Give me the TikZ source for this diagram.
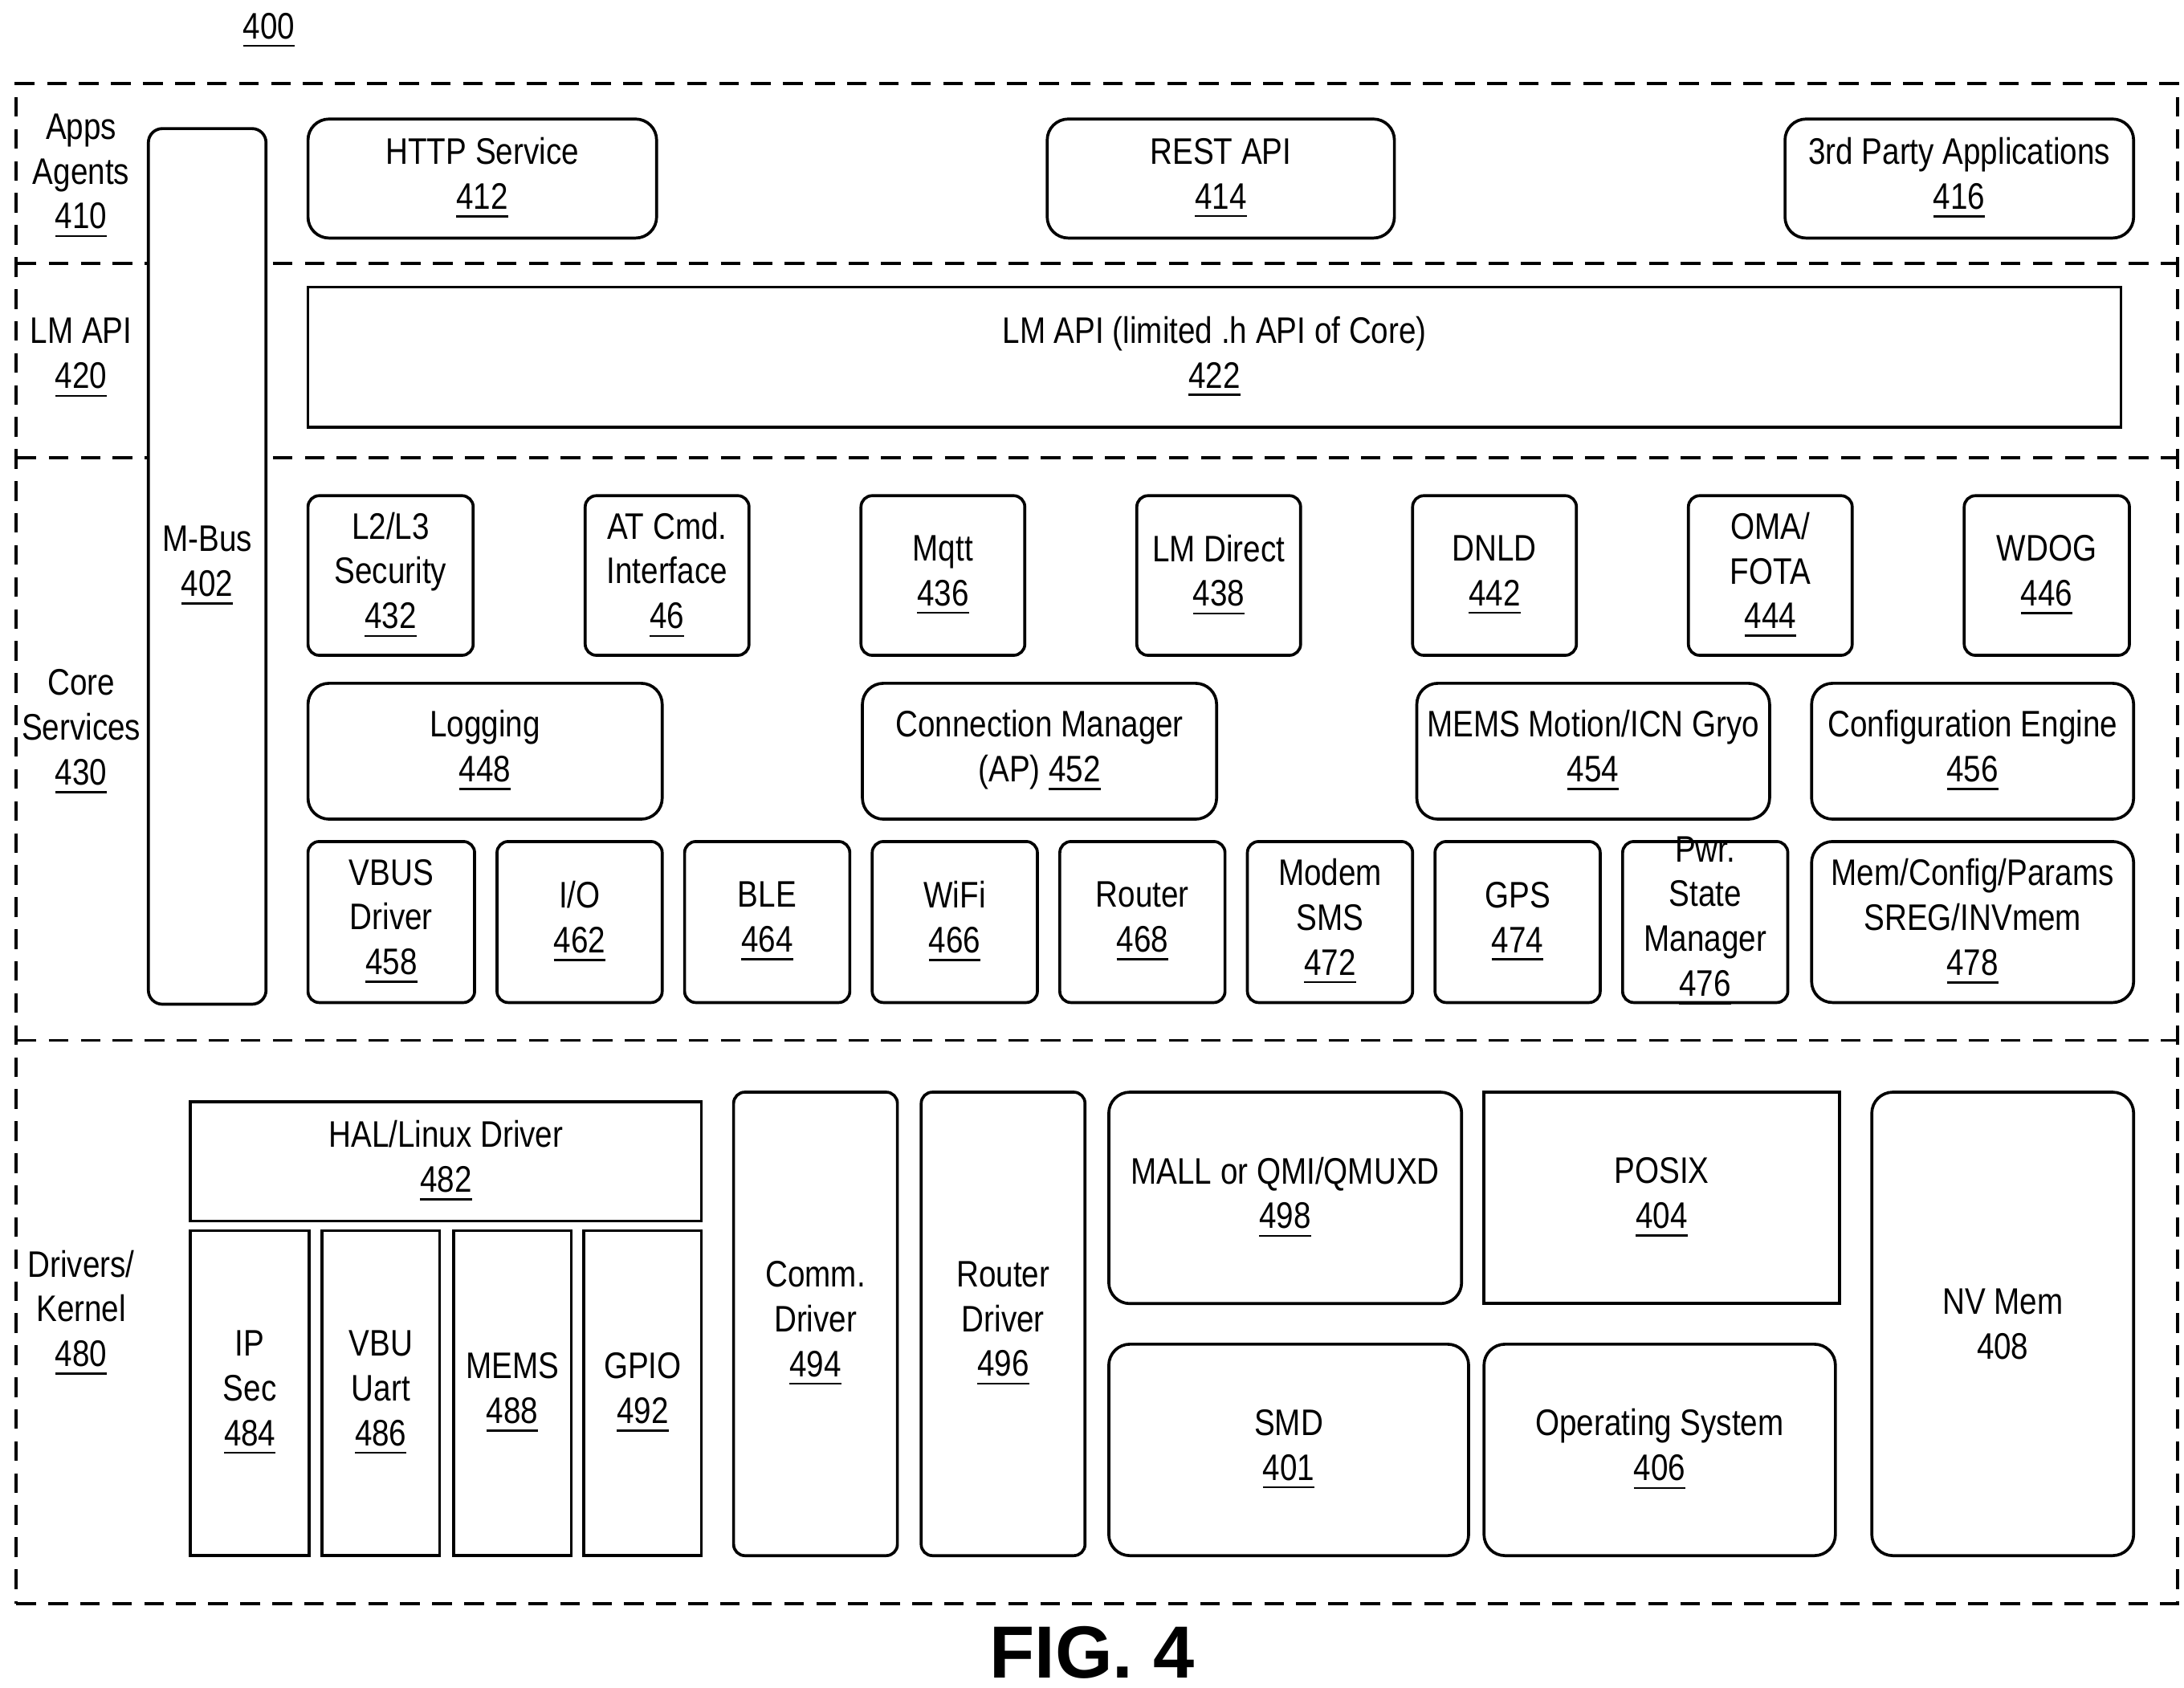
\documentclass[tikz,border=0pt]{standalone}
\usepackage{fontspec}
\setmainfont[FakeStretch=0.84]{Liberation Sans}
\newfontfamily\figfont{Liberation Sans}
\newcommand{\un}[1]{\underline{#1}}
\begin{document}
\begin{tikzpicture}[x=0.01cm,y=-0.01cm,
  base/.style={draw,line width=0.6pt,align=center,font=\fontsize{7.5}{9.1}\selectfont,inner sep=0pt},
  rb/.style={base,rounded corners=1.5mm},
  sb/.style={base,rounded corners=0.8mm},
  qb/.style={base},
  lab/.style={align=center,font=\fontsize{7.5}{9.1}\selectfont},
  dl/.style={line width=0.6pt,dash pattern=on 4pt off 2.5pt}]
\newcommand{\bx}[7]{\node[#2,minimum width={(#5-#3)*0.01cm},minimum height={(#6-#4)*0.01cm}] (#1) at ({(#3+#5)/2},{(#4+#6)/2}) {#7};}
\useasboundingbox (0,0) rectangle (1560,1205);
\node[dl,draw,minimum width=15.43cm,minimum height=10.85cm,inner sep=0pt] (outer) at (783.5,602.5) {};
\coordinate (l1a) at (12,188); \coordinate (l1b) at (1555,188);
\coordinate (l2a) at (12,327); \coordinate (l2b) at (1555,327);
\coordinate (l3a) at (12,743); \coordinate (l3b) at (1555,743);
\draw[dl] (l1a)--(l1b); \draw[dl] (l2a)--(l2b); \draw[dl] (l3a)--(l3b);
\node[lab] (n400) at (192,22) {\un{400}};
\node[lab] (L410) at (58,126) {Apps\\Agents\\\un{410}};
\node[lab] (L420) at (58,256) {LM API\\\un{420}};
\node[lab] (L430) at (58,523) {Core\\Services\\\un{430}};
\node[lab] (L480) at (58,938) {Drivers/\\Kernel\\\un{480}};
\node[base,fill=white,rounded corners=1mm,minimum width=0.84cm,minimum height=6.25cm] (mbus) at (148,404.5) {M-Bus\\\un{402}};
\bx{b412}{rb}{220}{85}{469}{170}{HTTP Service\\\un{412}}
\bx{b414}{rb}{748}{85}{996}{170}{REST API\\\un{414}}
\bx{b416}{rb}{1275}{85}{1524}{170}{3rd Party Applications\\\un{416}}
\bx{b422}{qb}{220}{205}{1515}{305}{LM API (limited .h API of Core)\\\un{422}}
\bx{b432}{sb}{220}{354}{338}{468}{L2/L3\\Security\\\un{432}}
\bx{b46}{sb}{418}{354}{535}{468}{AT Cmd.\\Interface\\\un{46}}
\bx{b436}{sb}{615}{354}{732}{468}{Mqtt\\\un{436}}
\bx{b438}{sb}{812}{354}{929}{468}{LM Direct\\\un{438}}
\bx{b442}{sb}{1009}{354}{1126}{468}{DNLD\\\un{442}}
\bx{b444}{sb}{1206}{354}{1323}{468}{OMA/\\FOTA\\\un{444}}
\bx{b446}{sb}{1403}{354}{1521}{468}{WDOG\\\un{446}}
\bx{b448}{rb}{220}{488}{473}{585}{Logging\\\un{448}}
\bx{b452}{rb}{616}{488}{869}{585}{Connection Manager\\(AP) \un{452}}
\bx{b454}{rb}{1012}{488}{1264}{585}{MEMS Motion/ICN Gryo\\\un{454}}
\bx{b456}{rb}{1294}{488}{1524}{585}{Configuration Engine\\\un{456}}
\bx{b458}{sb}{220}{601}{339}{716}{VBUS\\Driver\\\un{458}}
\bx{b462}{sb}{355}{601}{473}{716}{I/O\\\un{462}}
\bx{b464}{sb}{489}{601}{607}{716}{BLE\\\un{464}}
\bx{b466}{sb}{623}{601}{741}{716}{WiFi\\\un{466}}
\bx{b468}{sb}{757}{601}{875}{716}{Router\\\un{468}}
\bx{b472}{sb}{891}{601}{1009}{716}{Modem\\SMS\\\un{472}}
\bx{b474}{sb}{1025}{601}{1143}{716}{GPS\\\un{474}}
\bx{b476}{sb}{1159}{601}{1277}{716}{}
\node[lab] (t476) at (1218,658) {Pwr.\\State\\Manager\\\un{476}};
\bx{b478}{rb}{1294}{601}{1524}{716}{Mem/Config/Params\\SREG/INVmem\\\un{478}}
\bx{b482}{qb}{136}{787}{501}{872}{HAL/Linux Driver\\\un{482}}
\bx{b484}{qb}{136}{879}{221}{1111}{IP\\Sec\\\un{484}}
\bx{b486}{qb}{230}{879}{314}{1111}{VBU\\Uart\\\un{486}}
\bx{b488}{qb}{324}{879}{408}{1111}{MEMS\\\un{488}}
\bx{b492}{qb}{417}{879}{501}{1111}{GPIO\\\un{492}}
\bx{b494}{sb}{524}{780}{641}{1111}{Comm.\\Driver\\\un{494}}
\bx{b496}{sb}{658}{780}{775}{1111}{Router\\Driver\\\un{496}}
\bx{b498}{rb}{792}{780}{1044}{931}{MALL or QMI/QMUXD\\\un{498}}
\bx{b404}{qb}{1060}{780}{1314}{931}{POSIX\\\un{404}}
\bx{b401}{rb}{792}{960}{1049}{1111}{SMD\\\un{401}}
\bx{b406}{rb}{1060}{960}{1311}{1111}{Operating System\\\un{406}}
\bx{b408}{rb}{1337}{780}{1524}{1111}{NV Mem\\408}
\node[font=\figfont\bfseries\fontsize{15}{17}\selectfont] (fig) at (780,1180) {FIG. 4};
\end{tikzpicture}
\end{document}
